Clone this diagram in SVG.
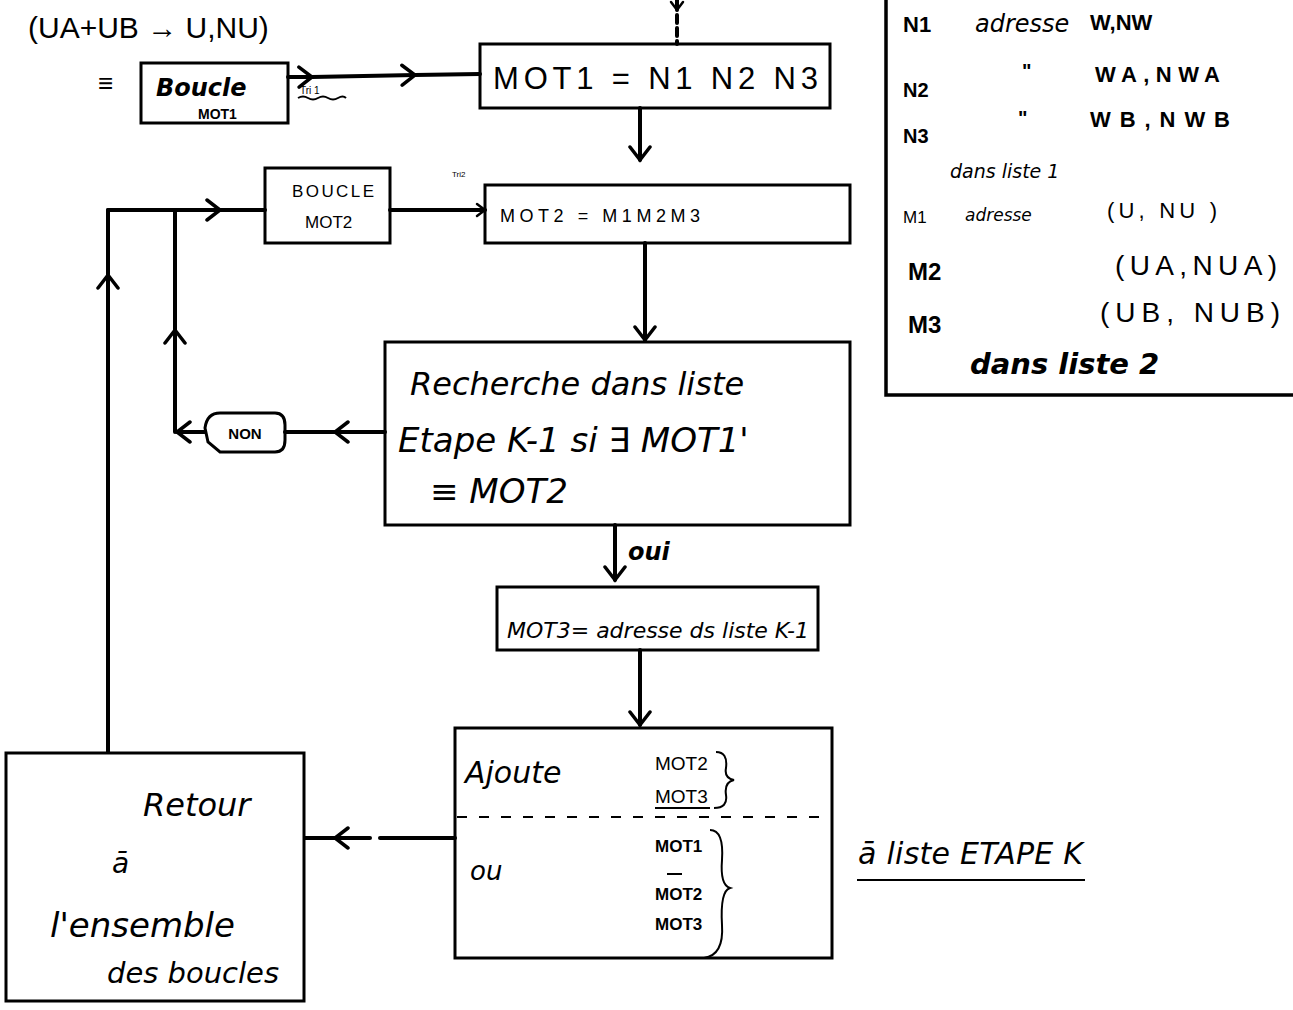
<svg xmlns="http://www.w3.org/2000/svg" width="1293" height="1010" viewBox="0 0 1293 1010">
<defs>
<style>
.box{fill:none;stroke:#000;stroke-width:3}
.ln{fill:none;stroke:#000;stroke-width:4;stroke-linecap:round}
.thin{fill:none;stroke:#000;stroke-width:2}
.t{font-family:"Liberation Sans",Arial,sans-serif;fill:#000}
.h{font-family:"DejaVu Sans","Liberation Sans",sans-serif;fill:#000;font-style:italic}
</style>
<marker id="v" markerUnits="userSpaceOnUse" markerWidth="30" markerHeight="30" viewBox="-15 -15 30 30" refX="0" refY="0" orient="auto">
<path d="M-13,-10 L0,0 L-13,10" fill="none" stroke="#000" stroke-width="3.5" stroke-linecap="round"/>
</marker>
<marker id="vs" markerUnits="userSpaceOnUse" markerWidth="20" markerHeight="20" viewBox="-10 -10 20 20" refX="0" refY="0" orient="auto">
<path d="M-8,-6 L0,0 L-8,6" fill="none" stroke="#000" stroke-width="2.5" stroke-linecap="round"/>
</marker>
</defs>
<rect width="1293" height="1010" fill="#fff"/>

<g id="connectors">
<path class="ln" d="M677,0 L677,10" marker-end="url(#vs)"/>
<path class="ln" d="M677,15 L677,44" stroke-dasharray="8,5"/>
<polyline class="ln" points="288,77 312,77 415,75 480,74" marker-mid="url(#v)"/>
<path class="ln" d="M640,108 L640,160" marker-end="url(#v)"/>
<polyline class="ln" points="108,752 108,275 108,210" marker-mid="url(#v)"/>
<polyline class="ln" points="108,210 220,210 265,210" marker-mid="url(#v)"/>
<polyline class="ln" points="175,432 175,330 175,210" marker-mid="url(#v)"/>
<path class="ln" d="M390,210 L485,210" marker-end="url(#vs)"/>
<path class="ln" d="M645,243 L645,340" marker-end="url(#v)"/>
<polyline class="ln" points="385,432 335,432 285,432" marker-mid="url(#v)"/>
<path class="ln" d="M205,432 L177,432" marker-end="url(#v)"/>
<path class="ln" d="M615,525 L615,580" marker-end="url(#v)"/>
<path class="ln" d="M640,650 L640,725" marker-end="url(#v)"/>
<path class="ln" d="M455,838 L380,838"/>
<polyline class="ln" points="370,838 335,838 305,838" marker-mid="url(#v)"/>
</g>

<g id="top-note">
<text class="t" x="28" y="38" font-size="30">(UA+UB → U,NU)</text>
<text class="t" x="98" y="92" font-size="26" font-weight="bold">≡</text>
</g>

<g id="boucle-mot1">
<rect class="box" x="141" y="63" width="147" height="60"/>
<text class="h" x="156" y="96" font-size="24" font-weight="bold">Boucle</text>
<text class="t" x="198" y="119" font-size="14" font-weight="bold">MOT1</text>
<text class="t" x="300" y="94" font-size="10">Tri 1</text>
<path class="thin" d="M298,98 Q303,95 308,98 T318,98 T328,98 T338,98 T346,98" stroke-width="1"/>
</g>

<g id="mot1">
<rect class="box" x="480" y="44" width="350" height="64"/>
<text class="t" x="493" y="89" font-size="31" textLength="325">MOT1 =  N1 N2 N3</text>
</g>

<g id="boucle-mot2">
<rect class="box" x="265" y="168" width="125" height="75"/>
<text class="t" x="292" y="197" font-size="17" textLength="82">BOUCLE</text>
<text class="t" x="305" y="228" font-size="17">MOT2</text>
<text class="t" x="452" y="177" font-size="8">Tri2</text>
</g>

<g id="mot2">
<rect class="box" x="485" y="185" width="365" height="58"/>
<text class="t" x="500" y="222" font-size="18" textLength="200">MOT2  =  M1M2M3</text>
</g>

<g id="recherche">
<rect class="box" x="385" y="342" width="465" height="183"/>
<text class="h" x="410" y="395" font-size="32">Recherche dans liste</text>
<text class="h" x="398" y="452" font-size="34">Etape K-1 si ∃ MOT1'</text>
<text class="h" x="430" y="503" font-size="34">≡ MOT2</text>
</g>

<g id="non">
<path class="box" d="M220,413 L275,413 Q285,413 285,425 L285,440 Q285,452 275,452 L220,452 L208,442 L205,428 Q207,413 220,413 Z"/>
<text class="t" x="245" y="439" font-size="15" font-weight="bold" text-anchor="middle">NON</text>
</g>

<g id="oui">
<text class="h" x="628" y="560" font-size="24" font-weight="bold">oui</text>
</g>

<g id="mot3">
<rect class="box" x="497" y="587" width="321" height="63"/>
<text class="h" x="507" y="638" font-size="22" textLength="302" lengthAdjust="spacingAndGlyphs">MOT3= adresse ds liste K-1</text>
</g>

<g id="ajoute">
<rect class="box" x="455" y="728" width="377" height="230"/>
<path class="thin" d="M457,817 L832,817" stroke-dasharray="10,12"/>
<text class="h" x="465" y="783" font-size="30">Ajoute</text>
<text class="t" x="655" y="770" font-size="19">MOT2</text>
<text class="t" x="655" y="803" font-size="19">MOT3</text>
<path class="thin" d="M655,808 L710,808"/>
<path class="thin" d="M716,752 Q728,752 726,768 Q724,778 734,780 Q724,782 726,795 Q728,808 714,808"/>
<text class="h" x="470" y="880" font-size="26">ou</text>
<text class="t" x="655" y="852" font-size="17" font-weight="bold">MOT1</text>
<path class="thin" d="M667,874 L682,874" stroke-width="3"/>
<text class="t" x="655" y="900" font-size="17" font-weight="bold">MOT2</text>
<text class="t" x="655" y="930" font-size="17" font-weight="bold">MOT3</text>
<path class="thin" d="M710,830 Q724,830 722,860 Q720,885 730,888 Q720,891 722,925 Q724,955 704,958"/>
</g>

<g id="etape-k">
<text class="h" x="858" y="864" font-size="30" textLength="225">ā liste ETAPE K</text>
<path class="thin" d="M857,880 L1085,880" stroke-width="2.5"/>
</g>

<g id="retour">
<rect class="box" x="6" y="753" width="298" height="248"/>
<text class="h" x="143" y="816" font-size="32">Retour</text>
<text class="h" x="112" y="873" font-size="28">ā</text>
<text class="h" x="50" y="937" font-size="34">l'ensemble</text>
<text class="h" x="107" y="983" font-size="29">des boucles</text>
</g>

<g id="legend">
<path class="ln" d="M886,0 L886,395 L1293,395" style="stroke-width:3.5"/>
<text class="t" x="903" y="32" font-size="22" font-weight="bold">N1</text>
<text class="h" x="975" y="32" font-size="24">adresse</text>
<text class="t" x="1090" y="30" font-size="22" font-weight="bold">W,NW</text>
<text class="t" x="903" y="97" font-size="20" font-weight="bold">N2</text>
<text class="t" x="1022" y="78" font-size="20" font-weight="bold">"</text>
<text class="t" x="1095" y="82" font-size="22" font-weight="bold" textLength="125">WA,NWA</text>
<text class="t" x="903" y="143" font-size="20" font-weight="bold">N3</text>
<text class="t" x="1018" y="125" font-size="20" font-weight="bold">"</text>
<text class="t" x="1090" y="127" font-size="22" font-weight="bold" textLength="140">WB,NWB</text>
<text class="h" x="950" y="178" font-size="19">dans liste 1</text>
<text class="t" x="903" y="223" font-size="17">M1</text>
<text class="h" x="965" y="221" font-size="17">adresse</text>
<text class="t" x="1107" y="218" font-size="22" textLength="110">(U, NU )</text>
<text class="t" x="908" y="280" font-size="24" font-weight="bold">M2</text>
<text class="t" x="1115" y="275" font-size="28" textLength="162">(UA,NUA)</text>
<text class="t" x="908" y="333" font-size="24" font-weight="bold">M3</text>
<text class="t" x="1100" y="322" font-size="28" textLength="180">(UB, NUB)</text>
<text class="h" x="970" y="374" font-size="29" font-weight="bold">dans liste 2</text>
</g>
</svg>
